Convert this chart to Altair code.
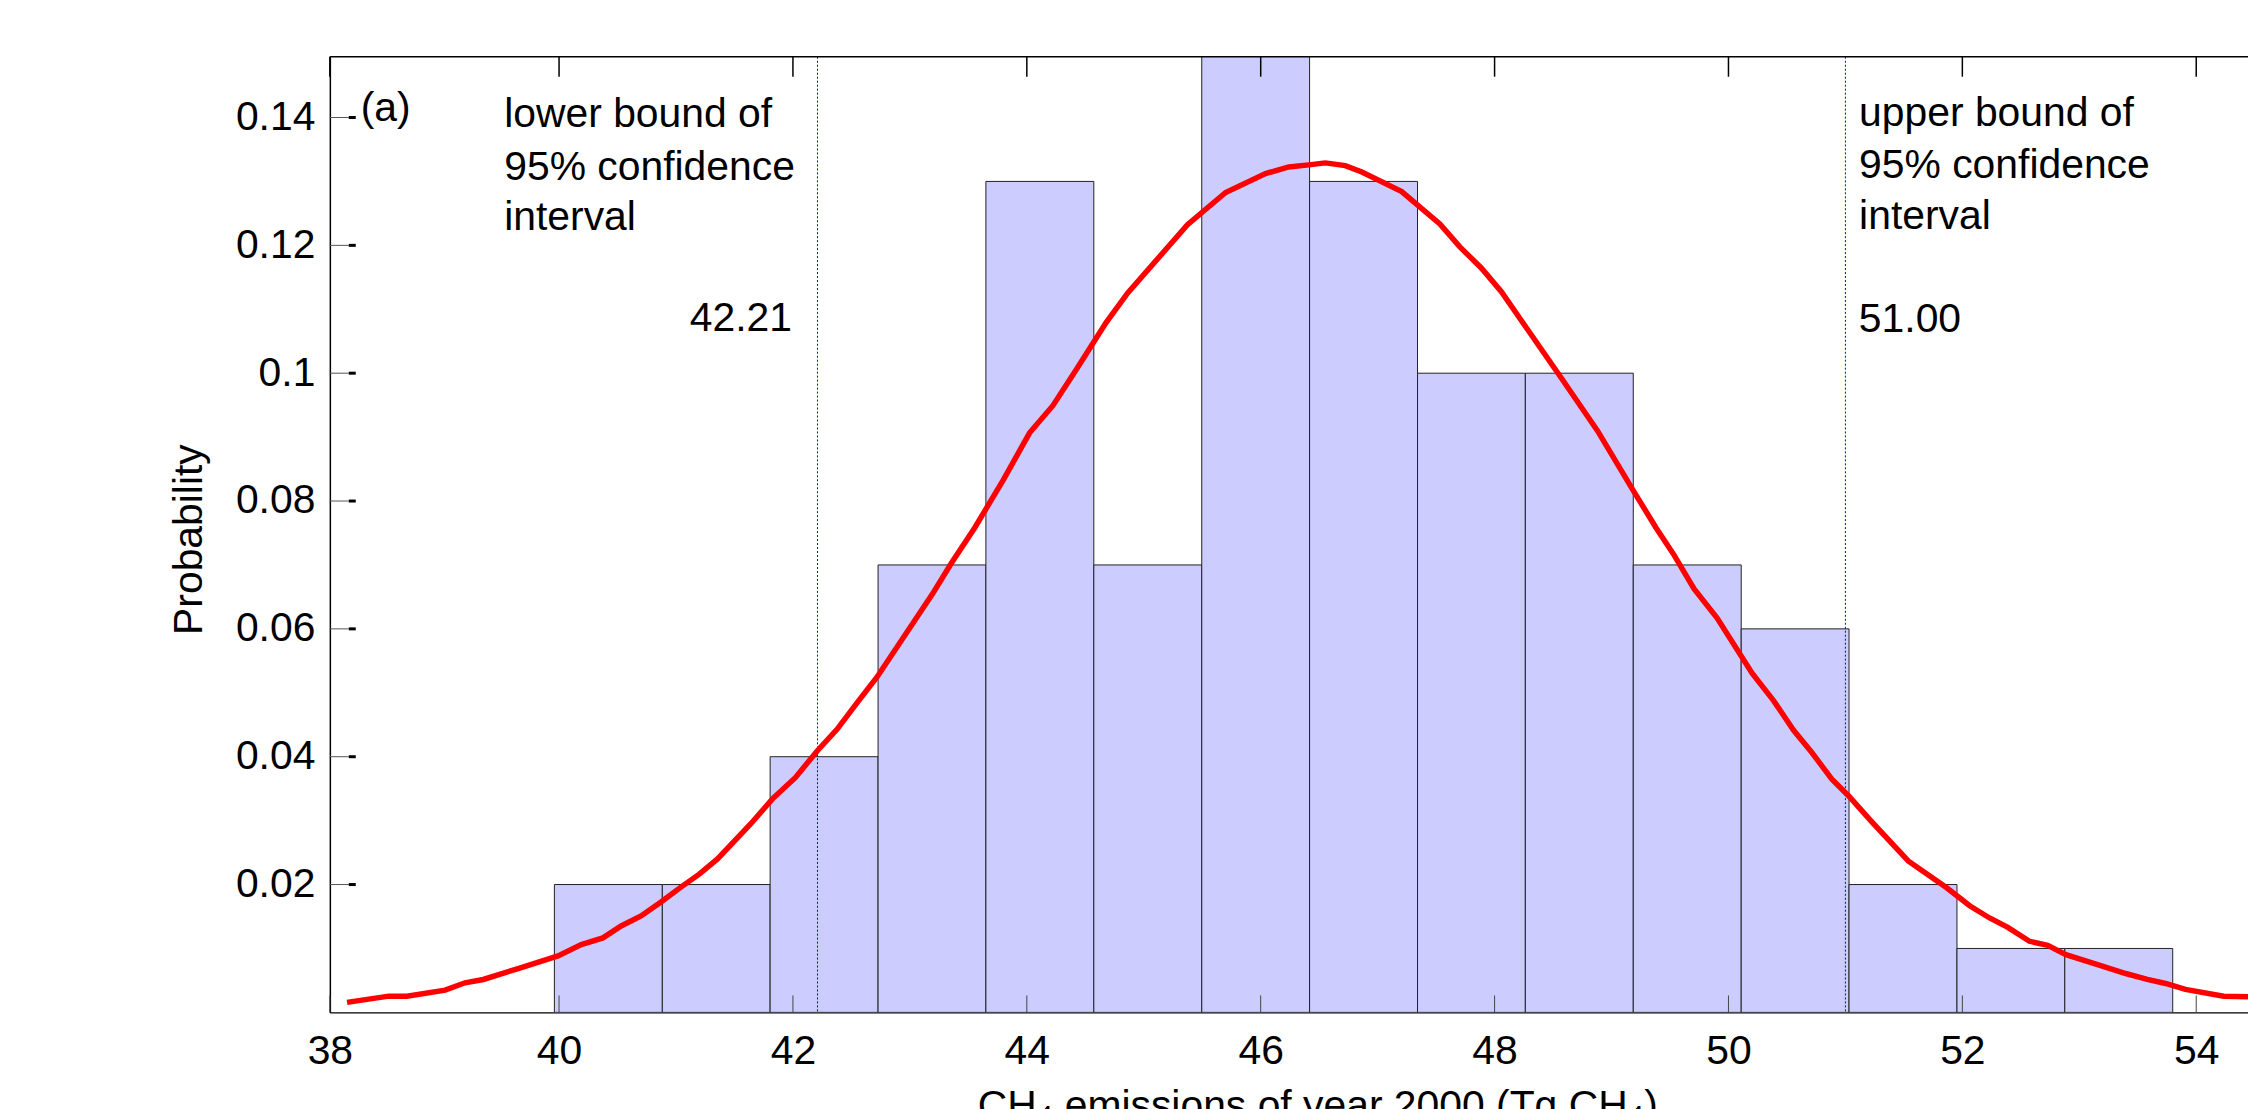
import altair as alt
import pandas as pd

FONT = "Liberation Sans"

# ---- histogram (Tg CH4 bins) ----
bin_left = [39.960, 40.883, 41.805, 42.728, 43.650, 44.573, 45.496, 46.418,
            47.341, 48.263, 49.186, 50.109, 51.031, 51.954, 52.876]
bin_right = [40.883, 41.805, 42.728, 43.650, 44.573, 45.496, 46.418, 47.341,
             48.263, 49.186, 50.109, 51.031, 51.954, 52.876, 53.799]
probability = [0.02, 0.02, 0.04, 0.07, 0.13, 0.07, 0.15, 0.13,
               0.10, 0.10, 0.07, 0.06, 0.02, 0.01, 0.01]

# ---- fitted curve ----
curve_x = [38.187, 38.543, 38.699, 39.026, 39.196, 39.352, 39.650, 39.991, 40.190, 40.375,
           40.531, 40.701, 40.872, 41.042, 41.199, 41.355, 41.638, 41.823, 42.022, 42.207,
           42.377, 42.548, 42.718, 43.201, 43.357, 43.556, 43.798, 44.024, 44.224, 44.422,
           44.678, 44.863, 45.374, 45.700, 46.041, 46.240, 46.410, 46.553, 46.723, 46.865,
           47.206, 47.532, 47.703, 47.888, 48.058, 48.242, 48.569, 48.881, 49.194, 49.379,
           49.535, 49.705, 49.903, 50.202, 50.387, 50.557, 50.713, 50.884, 51.026, 51.224,
           51.537, 51.863, 52.063, 52.233, 52.389, 52.574, 52.730, 52.886, 53.170, 53.397,
           53.582, 53.738, 53.908, 54.235, 54.443, 54.700]
curve_y = [0.00156, 0.00254, 0.00254, 0.00348, 0.00463, 0.00515, 0.00686, 0.00884, 0.01060, 0.01165,
           0.01352, 0.01508, 0.01726, 0.01960, 0.02163, 0.02401, 0.02947, 0.03337, 0.03675, 0.04090,
           0.04429, 0.04842, 0.05243, 0.06570, 0.07033, 0.07587, 0.08327, 0.09067, 0.09496, 0.10053,
           0.10792, 0.11256, 0.12322, 0.12827, 0.13123, 0.13227, 0.13259, 0.13290, 0.13247, 0.13148,
           0.12840, 0.12334, 0.11976, 0.11643, 0.11274, 0.10790, 0.09928, 0.09097, 0.08140, 0.07586,
           0.07154, 0.06630, 0.06168, 0.05305, 0.04873, 0.04413, 0.04065, 0.03649, 0.03389, 0.02984,
           0.02370, 0.01954, 0.01668, 0.01477, 0.01330, 0.01112, 0.01049, 0.00904, 0.00738, 0.00608,
           0.00515, 0.00452, 0.00359, 0.00254, 0.00245, 0.00230]

# ---- 95% confidence bounds ----
ci_values = [42.21, 51.00]

# ---- annotations ----
note_left_text = ["(a)", "lower bound of", "95% confidence", "interval",
                  "upper bound of", "95% confidence", "interval", "51.00"]
note_left_x = [38.304, 39.531, 39.531, 39.531, 51.117, 51.117, 51.117, 51.115]
note_left_y = [0.1394, 0.13851, 0.13020, 0.12241, 0.13863, 0.13052, 0.12257, 0.10639]
note_right_text = ["42.21"]
note_right_x = [41.992]
note_right_y = [0.10655]

# ---- ticks ----
x_ticks = [38.04, 40, 42, 44, 46, 48, 50, 52, 54]
y_ticks = [0.02, 0.04, 0.06, 0.08, 0.10, 0.12, 0.14]

W, H = 1925, 959
FS = 41
x_scale = alt.Scale(domain=[38.04, 54.4427], nice=False, zero=False)
y_scale = alt.Scale(domain=[0, 0.1495], nice=False, zero=False)

bins_df = pd.DataFrame({"left": bin_left, "right": bin_right, "prob": probability})
curve_df = pd.DataFrame({"x": curve_x, "y": curve_y})
ci_df = pd.DataFrame({"ci": ci_values})
notes_l = pd.DataFrame({"x": note_left_x, "y": note_left_y, "t": note_left_text})
notes_r = pd.DataFrame({"x": note_right_x, "y": note_right_y, "t": note_right_text})
xt_df = pd.DataFrame({"t": x_ticks})
yt_df = pd.DataFrame({"t": y_ticks})

x_axis = alt.Axis(
    values=x_ticks,
    labelExpr="datum.value < 39 ? '38' : format(datum.value, 'd')",
    labelFont=FONT, labelFontSize=FS, labelColor="black", labelPadding=19,
    labelFlush=False, labelOverlap=False,
    ticks=False, tickSize=0, grid=False,
    domainColor="black", domainWidth=1.5,
    title="CH\u2084 emissions of year 2000 (Tg CH\u2084)",
    titleFont=FONT, titleFontSize=FS, titleFontWeight="normal", titleColor="black",
    titleX=991, titleY=107, titleAlign="center", titleBaseline="alphabetic", titleAngle=0,
)
y_axis = alt.Axis(
    values=y_ticks, format="~g",
    labelFont=FONT, labelFontSize=FS, labelColor="black", labelPadding=15,
    ticks=False, tickSize=0, grid=False,
    domainColor="black", domainWidth=1.5,
    title="Probability",
    titleFont=FONT, titleFontSize=FS, titleFontWeight="normal", titleColor="black",
    titleX=-129.3, titleY=484, titleAlign="center", titleBaseline="alphabetic", titleAngle=270,
)


def X(field):
    return alt.X(field, scale=x_scale, axis=x_axis)


def Y(field):
    return alt.Y(field, scale=y_scale, axis=y_axis)


bars = alt.Chart(bins_df).mark_rect(
    fill="#CCCCFF", stroke="#222222", strokeWidth=1, clip=True
).encode(
    x=X("left:Q"),
    x2="right:Q",
    y=Y("prob:Q"),
    y2=alt.datum(0),
)

ci_lines = alt.Chart(ci_df).mark_rule(
    color="#0000FF", strokeWidth=1, strokeDash=[2, 2]
).encode(x=X("ci:Q"))

curve = alt.Chart(curve_df).mark_line(
    color="#FF0000", strokeWidth=5.5, clip=True
).encode(x=X("x:Q"), y=Y("y:Q"))

bottom_ticks = alt.Chart(xt_df).mark_rule(color="#444444", strokeWidth=1).encode(
    x=X("t:Q"), y=alt.value(H - 17), y2=alt.value(H)
)
top_ticks = alt.Chart(xt_df).mark_rule(color="black", strokeWidth=1.5).encode(
    x=X("t:Q"), y=alt.value(0), y2=alt.value(20)
)
y_ticks_a = alt.Chart(yt_df).mark_rule(color="#555555", strokeWidth=1).encode(
    y=Y("t:Q"), x=alt.value(0), x2=alt.value(19)
)
y_ticks_b = alt.Chart(yt_df).mark_rule(color="black", strokeWidth=3).encode(
    y=Y("t:Q"), x=alt.value(19), x2=alt.value(26)
)
top_border = alt.Chart(pd.DataFrame({"a": [0]})).mark_rule(color="black", strokeWidth=1.5).encode(
    y=alt.value(0), x=alt.value(0), x2=alt.value(W)
)

text_l = alt.Chart(notes_l).mark_text(
    align="left", baseline="alphabetic", font=FONT, fontSize=FS, color="black"
).encode(x=X("x:Q"), y=Y("y:Q"), text="t:N")
text_r = alt.Chart(notes_r).mark_text(
    align="right", baseline="alphabetic", font=FONT, fontSize=FS, color="black"
).encode(x=X("x:Q"), y=Y("y:Q"), text="t:N")

chart = alt.layer(
    bars, ci_lines, curve, bottom_ticks, top_ticks, y_ticks_a, y_ticks_b, top_border, text_l, text_r
).properties(
    width=W, height=H,
    autosize=alt.AutoSizeParams(type="none"),
    padding={"left": 323, "top": 47, "right": 0, "bottom": 95},
    background="white",
).configure_view(strokeWidth=0)

chart.save("out.html", embed_options={"renderer": "svg", "actions": False})
